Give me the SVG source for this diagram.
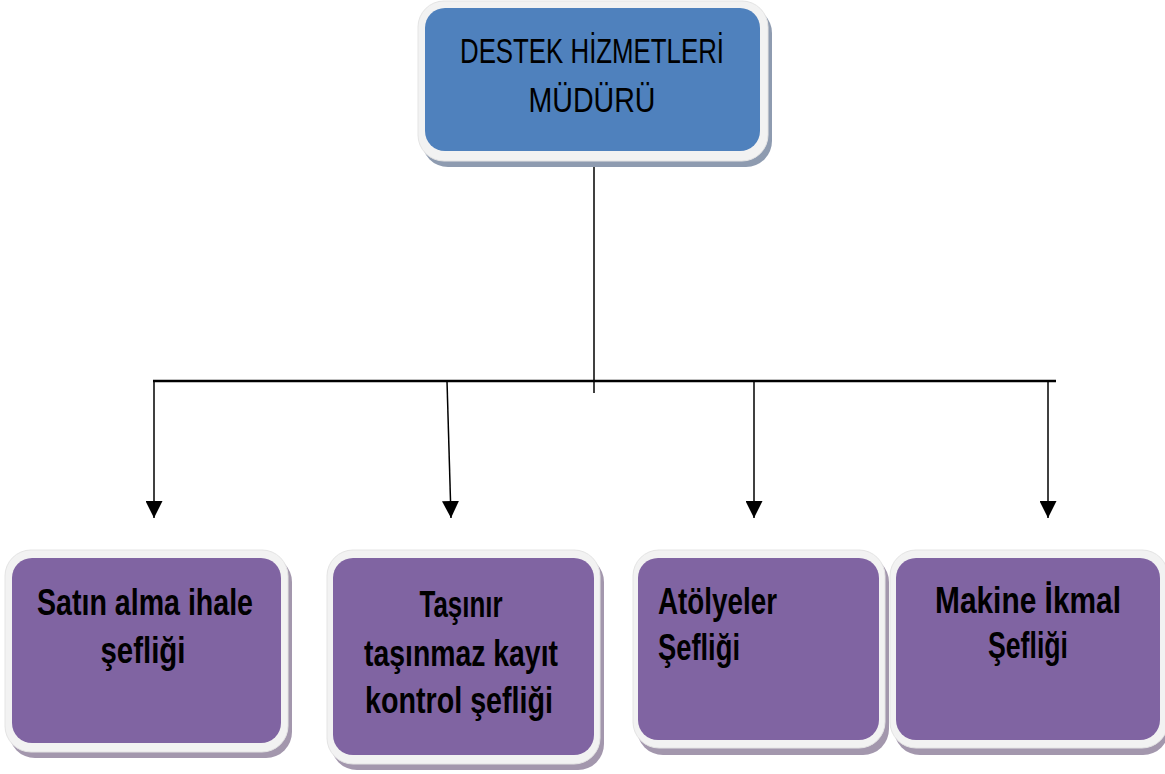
<svg xmlns="http://www.w3.org/2000/svg" width="1165" height="774" viewBox="0 0 1165 774">
<style>
.frame{fill:#F2F2F2;stroke:#E4E4E4;stroke-width:1}
.shB{fill:#8E9BB0}
.shP{fill:#A397AD}
.blue{fill:#4F81BD}
.purple{fill:#8064A2}
.t{font-family:"Liberation Sans Narrow","Liberation Sans",Arial,sans-serif;fill:#000}
.tb{font-weight:bold;font-size:36px}
.tn{font-size:35px}
.ln{stroke:#000;stroke-width:1.5;fill:none}
</style>
<defs>
<marker id="arr" markerUnits="userSpaceOnUse" markerWidth="17" markerHeight="17" refX="16" refY="8" orient="auto" viewBox="0 0 16 16">
<path d="M0,0 L16,8 L0,16 Z" fill="#000"/>
</marker>
</defs>
<rect width="1165" height="774" fill="#fff"/>

<g id="connectors">
<line class="ln" x1="594" y1="158" x2="594" y2="393"/>
<line x1="153" y1="381" x2="1056" y2="381" stroke="#000" stroke-width="2.5"/>
<line class="ln" x1="154" y1="381" x2="154" y2="518" marker-end="url(#arr)"/>
<line class="ln" x1="447" y1="381" x2="451" y2="518" marker-end="url(#arr)"/>
<line class="ln" x1="754" y1="381" x2="754" y2="518" marker-end="url(#arr)"/>
<line class="ln" x1="1048" y1="381" x2="1048" y2="518" marker-end="url(#arr)"/>
</g>

<g id="node-mudur">
<rect class="shB" x="422" y="7" width="350" height="160" rx="26"/>
<rect class="frame" x="418" y="1" width="350" height="160" rx="26"/>
<rect class="blue" x="425" y="8" width="335" height="143" rx="20"/>
<text class="t tn" x="592" y="63" text-anchor="middle" textLength="264" lengthAdjust="spacingAndGlyphs">DESTEK HİZMETLERİ</text>
<text class="t tn" x="592" y="112" text-anchor="middle" textLength="127" lengthAdjust="spacingAndGlyphs">MÜDÜRÜ</text>
</g>

<g id="node-satin">
<rect class="shP" x="9" y="556" width="283" height="202" rx="26"/>
<rect class="frame" x="5" y="550" width="283" height="202" rx="26"/>
<rect class="purple" x="12" y="558" width="269" height="185" rx="20"/>
<text class="t tb" x="145" y="615" text-anchor="middle" textLength="216" lengthAdjust="spacingAndGlyphs">Satın alma ihale</text>
<text class="t tb" x="143" y="663" text-anchor="middle" textLength="85" lengthAdjust="spacingAndGlyphs">şefliği</text>
</g>

<g id="node-tasinir">
<rect class="shP" x="331" y="556" width="273" height="214" rx="26"/>
<rect class="frame" x="327" y="550" width="273" height="214" rx="26"/>
<rect class="purple" x="333" y="558" width="261" height="197" rx="20"/>
<text class="t tb" x="461" y="617" text-anchor="middle" textLength="83" lengthAdjust="spacingAndGlyphs">Taşınır</text>
<text class="t tb" x="461" y="666" text-anchor="middle" textLength="194" lengthAdjust="spacingAndGlyphs">taşınmaz kayıt</text>
<text class="t tb" x="459" y="713" text-anchor="middle" textLength="188" lengthAdjust="spacingAndGlyphs">kontrol şefliği</text>
</g>

<g id="node-atolyeler">
<rect class="shP" x="637" y="556" width="252" height="199" rx="26"/>
<rect class="frame" x="633" y="550" width="252" height="198" rx="26"/>
<rect class="purple" x="638" y="558" width="241" height="182" rx="20"/>
<text class="t tb" x="658" y="614" textLength="119" lengthAdjust="spacingAndGlyphs">Atölyeler</text>
<text class="t tb" x="658" y="660" textLength="82" lengthAdjust="spacingAndGlyphs">Şefliği</text>
</g>

<g id="node-makine">
<rect class="shP" x="894" y="556" width="275" height="199" rx="26"/>
<rect class="frame" x="890" y="550" width="278" height="198" rx="26"/>
<rect class="purple" x="896" y="558" width="264" height="182" rx="20"/>
<text class="t tb" x="1028" y="613" text-anchor="middle" textLength="186" lengthAdjust="spacingAndGlyphs">Makine İkmal</text>
<text class="t tb" x="1028" y="658" text-anchor="middle" textLength="80" lengthAdjust="spacingAndGlyphs">Şefliği</text>
</g>
</svg>
